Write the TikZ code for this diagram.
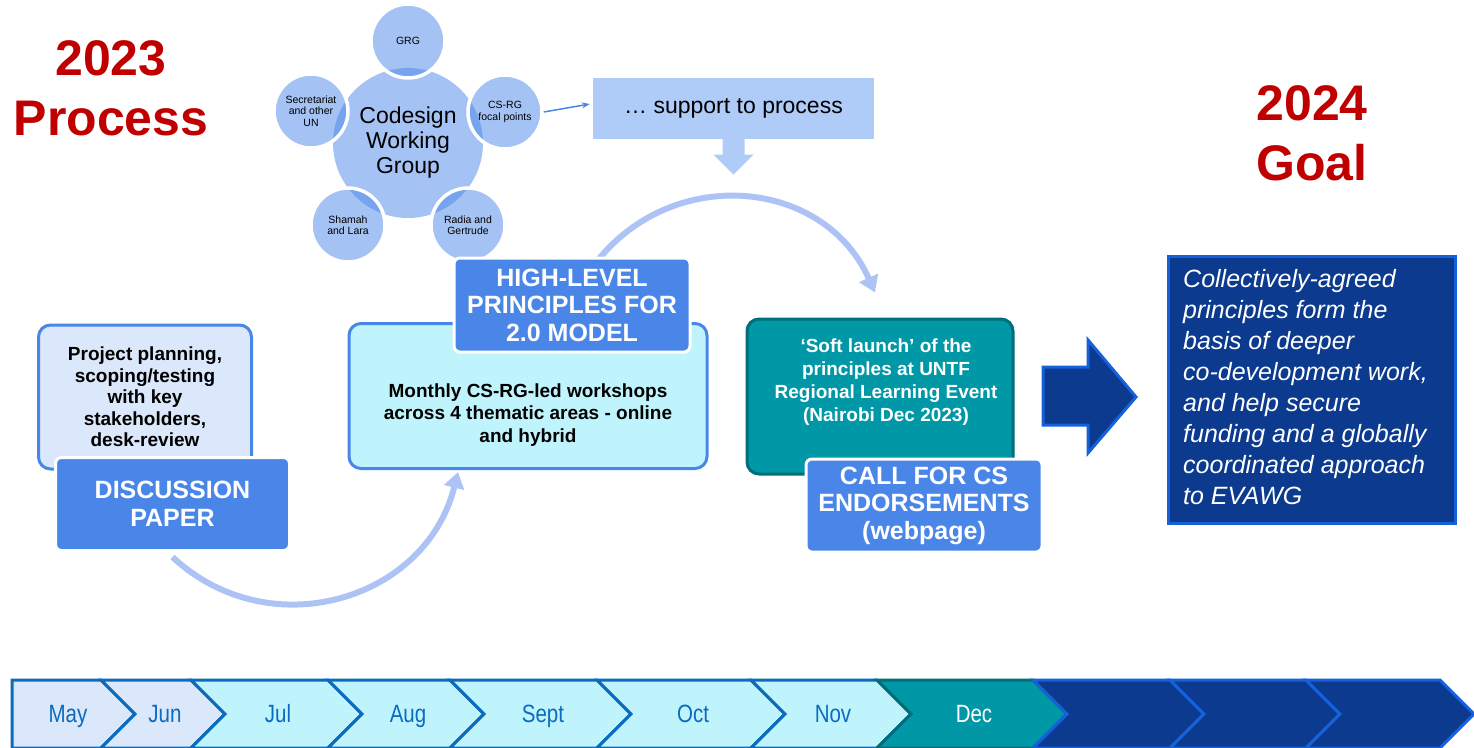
\documentclass[tikz,border=0pt]{standalone}
\usepackage{fontspec}
\setmainfont{Liberation Sans}
\newfontfamily\narrowsans[FakeStretch=0.82]{Liberation Sans}
\usetikzlibrary{arrows.meta,backgrounds}
\definecolor{titlered}{HTML}{C00000}
\definecolor{boxblue}{HTML}{4A86E8}
\definecolor{palebox}{HTML}{DBE7FA}
\definecolor{cyanbox}{HTML}{C0F4FD}
\definecolor{tealbox}{HTML}{0097A7}
\definecolor{tealedge}{HTML}{006F7A}
\definecolor{navybox}{HTML}{0B3A8E}
\definecolor{navyedge}{HTML}{1560DB}
\definecolor{flowblue}{HTML}{ADC3F6}
\definecolor{supportblue}{HTML}{AFCBF8}
\definecolor{tlblue}{HTML}{0B6BBF}
\tikzset{
  yeartitle/.style={text=titlered, align=center, font=\fontsize{50}{60}\selectfont\bfseries},
  stagebox/.style={draw=boxblue, line width=3pt, rounded corners=12pt},
  tagbox/.style={fill=boxblue, draw=white, line width=3pt, rounded corners=6pt, text=white, align=center, font=\fontsize{25}{27.5}\selectfont\bfseries},
  bodytext/.style={align=center, font=\fontsize{19}{22}\selectfont\bfseries},
  bubble/.style={circle, fill=boxblue, fill opacity=0.5, text opacity=1, draw=white, line width=3.5pt, minimum size=74pt, inner sep=0pt, align=center, font=\fontsize{10.5}{11.5}\selectfont},
  flow/.style={line width=6pt, draw=flowblue, -{Triangle[width=20pt,length=16pt]}},
  chevron/.style={line width=3pt},
  month/.style={anchor=base, font=\narrowsans\fontsize{25}{27}\selectfont}
}
\begin{document}
\begin{tikzpicture}[x=1pt,y=-1pt]
    \useasboundingbox (0,0) rectangle (1474,747);

    \node[yeartitle] (proc) at (111,88.5) {2023\\Process};
    \node[yeartitle] (goal) at (1312,133.5) {2024\\Goal};

    \node[bubble, minimum size=150pt, draw=none, font=\fontsize{23}{25}\selectfont] (cwg) at (408,143) {Codesign\\Working\\Group};
    \node[bubble] (grg) at (408,41) {GRG};
    \node[bubble] (csrg) at (505,112) {CS-RG\\focal points};
    \node[bubble] (radia) at (468,225) {Radia and\\Gertrude};
    \node[bubble] (shamah) at (348,225) {Shamah\\and Lara};
    \node[bubble] (secr) at (311,111) {Secretariat\\and other\\UN};

    \node[fill=supportblue, minimum width=281pt, minimum height=61pt, font=\fontsize{23}{26}\selectfont] (support) at (733.5,108) {… support to process};
    \draw[boxblue, line width=1.5pt, -{Stealth[length=8pt,width=6pt]}] (csrg.east) -- ([xshift=-3pt,yshift=4pt]support.west);
    \fill[supportblue] ([xshift=-11pt]support.south) -- ++(22,0) -- ++(0,16) -- ++(9,0) -- ++(-20,20) -- ++(-20,-20) -- ++(9,0) -- cycle;

    \node[stagebox, fill=palebox, minimum width=213pt, minimum height=144pt, bodytext, font=\fontsize{19}{21.5}\selectfont\bfseries] (plan) at (145,397) {Project planning,\\scoping/testing\\with key\\stakeholders,\\desk-review};
    \node[tagbox, minimum width=234pt, minimum height=93pt] (paper) at (172.5,504) {DISCUSSION\\PAPER};

    \node[stagebox, fill=cyanbox, minimum width=358pt, minimum height=145pt] (work) at (528,396) {};
    \node[bodytext, font=\fontsize{19}{22.5}\selectfont\bfseries] (worktxt) at (528,415) {Monthly CS-RG-led workshops\\across 4 thematic areas - online\\and hybrid};
    \node[tagbox, minimum width=236pt, minimum height=94pt] (principles) at (572,305) {HIGH-LEVEL\\PRINCIPLES FOR\\2.0 MODEL};

    \node[stagebox, draw=tealedge, fill=tealbox, minimum width=266pt, minimum height=155pt] (launch) at (880,396.5) {};
    \node[bodytext, text=white, font=\fontsize{19}{23}\selectfont\bfseries] (launchtxt) at (886,382.5) {‘Soft launch’ of the\\principles at UNTF\\Regional Learning Event\\(Nairobi Dec 2023)};
    \node[tagbox, minimum width=236pt, minimum height=93pt] (endorse) at (924,505.5) {CALL FOR CS\\ENDORSEMENTS\\(webpage)};

    \filldraw[fill=navybox, draw=navyedge, line width=3pt] (1043,367) -- (1088,367) -- (1088,340) -- (1136,397) -- (1088,453) -- (1088,425) -- (1043,425) -- cycle;
    \node[fill=navybox, draw=navyedge, line width=3pt, minimum width=287pt, minimum height=267pt] (goalbox) at (1311.5,389.5) {};
    \node[anchor=west, inner sep=0pt, align=left, text=white, font=\fontsize{25}{31}\selectfont\itshape] (goaltxt) at (1183,387.5) {Collectively-agreed\\principles form the\\basis of deeper\\co-development work,\\and help secure\\funding and a globally\\coordinated approach\\to EVAWG};

    \begin{pgfonlayer}{background}
        \draw[flow, looseness=1.14] ([yshift=-5pt]paper.south) to[out=-43,in=-104] ([xshift=-70pt,yshift=-2pt]work.south);
        \draw[flow, looseness=1.14] ([xshift=24pt,yshift=-6pt]principles.north) to[out=52,in=114] ([xshift=-5pt,yshift=25pt]launch.north);
    \end{pgfonlayer}

    \foreach \xl/\xr/\nd/\fc/\dc/\tc/\lx/\mon in {12/101/0/palebox/tlblue/tlblue/68/May, 101/191/34/palebox/tlblue/tlblue/165/Jun, 191/328/34/cyanbox/tlblue/tlblue/278/Jul, 328/450/34/cyanbox/tlblue/tlblue/408/Aug, 450/597/34/cyanbox/tlblue/tlblue/543/Sept, 597/751/34/cyanbox/tlblue/tlblue/693/Oct, 751/877/34/cyanbox/tlblue/tlblue/833/Nov, 877/1033/34/tealbox/tealedge/white/974/Dec}
    {
        \filldraw[chevron, fill=\fc, draw=\dc] (\xl,680) -- (\xr,680) -- (\xr+34,714) -- (\xr,748) -- (\xl,748) -- (\xl+\nd,714) -- cycle;
        \node[month, text=\tc] (m-\mon) at (\lx,722) {\mon};
    }
    \foreach \xl/\xr in {1033/1170, 1170/1306, 1306/1440}
        \filldraw[chevron, fill=navybox, draw=navyedge] (\xl,680) -- (\xr,680) -- (\xr+34,714) -- (\xr,748) -- (\xl,748) -- (\xl+34,714) -- cycle;
\end{tikzpicture}
\end{document}
